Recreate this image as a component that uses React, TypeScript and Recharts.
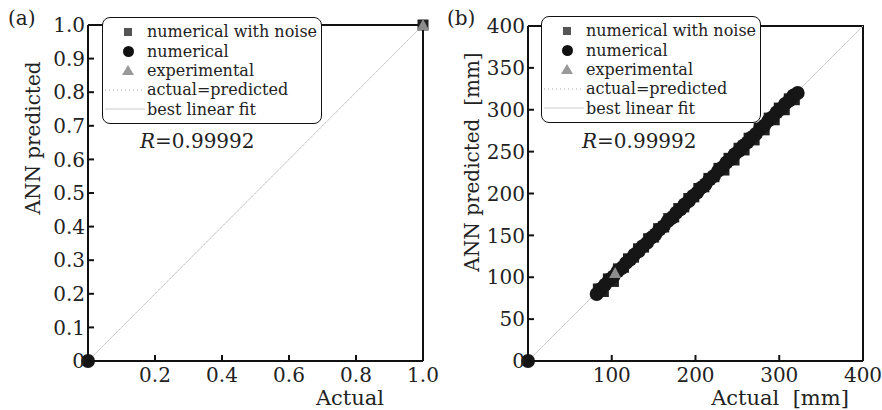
import { type FC } from "react";
import { ScatterChart, Scatter, XAxis, YAxis } from "recharts";

const FONT = '"DejaVu Serif", serif';
const INK = "#111";

// panel (a): normalised
const aYTicks = [0, 0.1, 0.2, 0.3, 0.4, 0.5, 0.6, 0.7, 0.8, 0.9, 1.0];
const aXTicks = [0.2, 0.4, 0.6, 0.8, 1.0];
const aNoiseX = [1.0];
const aNoiseY = [1.0];
const aNumX = [0];
const aNumY = [0];
const aExpX = [1.0];
const aExpY = [1.0];

// panel (b): mm
const bYTicks = [0, 50, 100, 150, 200, 250, 300, 350, 400];
const bXTicks = [100, 200, 300, 400];
const bNoiseX = [84, 90, 96, 102, 108, 114, 120, 126, 132, 138, 144, 150, 156, 162, 168, 174, 180, 186, 192, 198, 204, 210, 216, 222, 228, 234, 240, 246, 252, 258, 264, 270, 276, 282, 288, 294, 300, 306, 312, 318];
const bNoiseY = [86, 83, 98, 95, 110, 112, 122, 124, 134, 136, 146, 148, 158, 160, 170, 172, 182, 184, 194, 196, 206, 208, 218, 220, 230, 228, 242, 240, 254, 252, 266, 264, 278, 276, 290, 288, 302, 300, 313, 312];
const bNumX = [0, 82, 87, 92, 97, 102, 107, 112, 117, 122, 127, 132, 137, 142, 147, 152, 157, 162, 167, 172, 177, 182, 187, 192, 197, 202, 207, 212, 217, 222, 227, 232, 237, 242, 247, 252, 257, 262, 267, 272, 277, 282, 287, 292, 297, 302, 307, 312, 317, 322];
const bNumY = [0, 80, 86, 91, 97, 101, 107, 111, 117, 121, 127, 131, 137, 141, 147, 151, 157, 161, 167, 171, 177, 181, 187, 191, 197, 201, 207, 211, 217, 221, 227, 231, 237, 241, 247, 251, 257, 261, 267, 271, 277, 281, 287, 291, 297, 301, 307, 311, 317, 320];
const bExpX = [104];
const bExpY = [105];

const zip = (xs: number[], ys: number[]) => xs.map((x, i) => ({ x, y: ys[i] }));

const squareShape = (props: any) => (
  <rect x={props.cx - 5.5} y={props.cy - 5.5} width={11} height={11} fill="#222" />
);
const circleShape = (props: any) => <circle cx={props.cx} cy={props.cy} r={7} fill="#161616" />;
const triangleShape = (props: any) => (
  <polygon
    points={`${props.cx},${props.cy - 6} ${props.cx + 6},${props.cy + 5} ${props.cx - 6},${props.cy + 5}`}
    fill="#8c8c8c"
  />
);
const noShape = () => <g />;

const YTick = (fmt: (v: number) => string) => (props: any) => {
  const { x, y, payload } = props;
  return (
    <g>
      <line x1={x} x2={x + 6} y1={y} y2={y} stroke={INK} strokeWidth={2} />
      <text x={x - 3} y={y} dy="0.36em" textAnchor="end" fontFamily={FONT} fontSize={20} fill="#222">
        {fmt(payload.value)}
      </text>
    </g>
  );
};

const XTick = (fmt: (v: number) => string) => (props: any) => {
  const { x, y, payload } = props;
  return (
    <g>
      <line x1={x} x2={x} y1={y} y2={y - 6} stroke={INK} strokeWidth={2} />
      <text x={x} y={y + 21} textAnchor="middle" fontFamily={FONT} fontSize={20} fill="#222">
        {fmt(payload.value)}
      </text>
    </g>
  );
};

const Legend: FC<{ left: number; top: number }> = ({ left, top }) => {
  const row = (sym: JSX.Element, label: string) => (
    <div style={{ display: "flex", alignItems: "center", height: 19.4 }}>
      <div style={{ width: 44, display: "flex", justifyContent: "center", alignItems: "center" }}>{sym}</div>
      <span>{label}</span>
    </div>
  );
  return (
    <div
      style={{
        position: "absolute",
        left,
        top,
        width: 218,
        height: 101,
        border: `1.5px solid ${INK}`,
        borderRadius: 8,
        background: "#fff",
        fontFamily: FONT,
        fontSize: 16,
        color: "#222",
        lineHeight: "19px",
        paddingTop: 4,
        boxSizing: "content-box",
        whiteSpace: "nowrap",
      }}
    >
      {row(<div style={{ width: 8, height: 8, background: "#555", marginLeft: 6 }} />, "numerical with noise")}
      {row(<div style={{ width: 11, height: 11, borderRadius: 6, background: INK, marginLeft: 6 }} />, "numerical")}
      {row(
        <svg width={12} height={10} style={{ marginLeft: 6 }}>
          <polygon points="6,0 12,10 0,10" fill="#999" />
        </svg>,
        "experimental"
      )}
      {row(<svg width={40} height={4}><line x1={0} x2={40} y1={2} y2={2} stroke="#aaa" strokeWidth={1} strokeDasharray="1 3" /></svg>, "actual=predicted")}
      {row(<svg width={40} height={4}><line x1={0} x2={40} y1={2} y2={2} stroke="#ccc" strokeWidth={1.2} /></svg>, "best linear fit")}
    </div>
  );
};

const txt = (style: React.CSSProperties, s: string, size = 20) => (
  <div
    style={{
      position: "absolute",
      fontFamily: FONT,
      fontSize: size,
      color: "#222",
      whiteSpace: "pre",
      lineHeight: 1,
      ...style,
    }}
  >
    {s}
  </div>
);

interface PanelProps {
  max: number;
  xTicks: number[];
  yTicks: number[];
  noise: { x: number; y: number }[];
  num: { x: number; y: number }[];
  exp: { x: number; y: number }[];
  left: number;
  right: number;
  top: number;
  fmt: (v: number) => string;
}

const Panel: FC<PanelProps> = ({ max, xTicks, yTicks, noise, num, exp, left, right, top, fmt }) => {
  const diag = [
    { x: 0, y: 0 },
    { x: max, y: max },
  ];
  const frame = [
    { x: 0, y: max },
    { x: max, y: max },
    { x: max, y: 0 },
  ];
  return (
    <ScatterChart width={441} height={410} margin={{ top, right, bottom: 48, left: left - 1 }}>
      <XAxis
        type="number"
        dataKey="x"
        domain={[0, max]}
        ticks={xTicks}
        interval={0}
        height={1}
        tickSize={0}
        tickMargin={0}
        tickLine={false}
        axisLine={{ stroke: INK, strokeWidth: 2 }}
        tick={XTick(fmt)}
      />
      <YAxis
        type="number"
        dataKey="y"
        domain={[0, max]}
        ticks={yTicks}
        interval={0}
        width={1}
        tickSize={0}
        tickMargin={0}
        tickLine={false}
        axisLine={{ stroke: INK, strokeWidth: 2 }}
        tick={YTick(fmt)}
      />
      <Scatter
        data={frame}
        stroke={INK}
        strokeWidth={2}
        line={{ stroke: INK, strokeWidth: 2 }}
        shape={noShape}
        isAnimationActive={false}
      />
      <Scatter data={diag} line={{ stroke: "#d4d4d4", strokeWidth: 1 }} shape={noShape} isAnimationActive={false} />
      <Scatter data={diag} line={{ stroke: "#bbb", strokeWidth: 1, strokeDasharray: "1 3" }} shape={noShape} isAnimationActive={false} />
      <Scatter data={noise} shape={squareShape} isAnimationActive={false} />
      <Scatter data={num} shape={circleShape} isAnimationActive={false} />
      <Scatter data={exp} shape={triangleShape} isAnimationActive={false} />
    </ScatterChart>
  );
};

const fmtA = (v: number) => (v === 0 ? "0" : v.toFixed(1));
const fmtB = (v: number) => String(v);

export default function App() {
  return (
    <div style={{ position: "fixed", left: 0, top: 0, width: 882, height: 410, background: "#fff", overflow: "hidden" }}>
      <div style={{ position: "absolute", left: 0, top: 0 }}>
        <Panel
          max={1}
          xTicks={aXTicks}
          yTicks={aYTicks}
          noise={zip(aNoiseX, aNoiseY)}
          num={zip(aNumX, aNumY)}
          exp={zip(aExpX, aExpY)}
          left={88}
          right={18}
          top={25}
          fmt={fmtA}
        />
      </div>
      <div style={{ position: "absolute", left: 441, top: 0 }}>
        <Panel
          max={400}
          xTicks={bXTicks}
          yTicks={bYTicks}
          noise={zip(bNoiseX, bNoiseY)}
          num={zip(bNumX, bNumY)}
          exp={zip(bExpX, bExpY)}
          left={87}
          right={19}
          top={26}
          fmt={fmtB}
        />
      </div>

      <Legend left={102} top={17} />
      <Legend left={541} top={16} />

      {txt({ left: 8, top: 8 }, "(a)")}
      {txt({ left: 447, top: 8 }, "(b)")}
      <div style={{ position: "absolute", left: 140, top: 131, fontFamily: FONT, fontSize: 20, color: "#222", lineHeight: 1 }}>
        <i>R</i>=0.99992
      </div>
      <div style={{ position: "absolute", left: 582, top: 131, fontFamily: FONT, fontSize: 20, color: "#222", lineHeight: 1 }}>
        <i>R</i>=0.99992
      </div>
      {txt({ left: 350, top: 398, transform: "translate(-50%, -50%)" }, "Actual", 21)}
      {txt({ left: 780, top: 398, transform: "translate(-50%, -50%)" }, "Actual  [mm]", 21)}
      {txt({ left: 33, top: 138, transform: "translate(-50%, -50%) rotate(-90deg)" }, "ANN predicted", 20)}
      {txt({ left: 472, top: 162, transform: "translate(-50%, -50%) rotate(-90deg)" }, "ANN predicted  [mm]", 20)}
    </div>
  );
}
